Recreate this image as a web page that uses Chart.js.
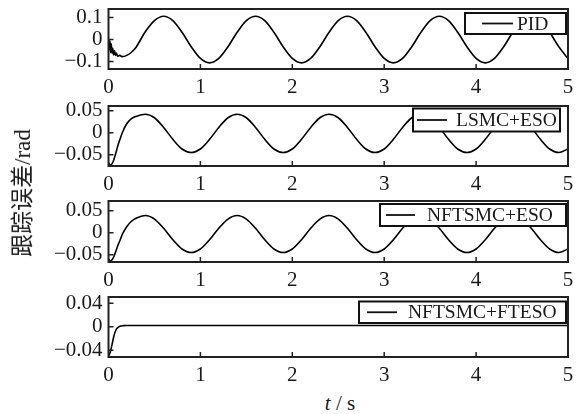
<!DOCTYPE html>
<html>
<head>
<meta charset="utf-8">
<script src="https://cdn.jsdelivr.net/npm/chart.js@4"></script>
<style>
  body { margin: 0; background: #fff; width: 582px; height: 414px; overflow: hidden; position: relative;
         font-family: "Liberation Serif", "Noto Sans CJK SC", serif; color: #1a1a1a; }
  canvas { position: absolute; left: 0; }
  #ytitle { position: absolute; left: 20px; top: 193px; transform: translate(-50%, -50%) rotate(-90deg);
            font-size: 23px; white-space: nowrap; }
  #xtitle { position: absolute; left: 340px; top: 403px; transform: translate(-50%, -50%);
            font-size: 21px; white-space: nowrap; }
</style>
</head>
<body>
<canvas id="c1" width="582" height="98" style="top:1px"></canvas>
<canvas id="c2" width="582" height="98" style="top:98px"></canvas>
<canvas id="c3" width="582" height="99" style="top:193px"></canvas>
<canvas id="c4" width="582" height="98" style="top:289px"></canvas>
<div id="ytitle">跟踪误差/rad</div>
<div id="xtitle"><i>t</i> / s</div>
<script>
// time axis ticks
const xTicks = [0, 1, 2, 3, 4, 5];

// common time grid after the start-up transient (s)
const tGrid = [0.3, 0.4, 0.5, 0.6, 0.7, 0.8, 0.9, 1.0, 1.1, 1.2, 1.3, 1.4, 1.5, 1.6, 1.7, 1.8, 1.9, 2.0,
  2.1, 2.2, 2.3, 2.4, 2.5, 2.6, 2.7, 2.8, 2.9, 3.0, 3.1, 3.2, 3.3, 3.4, 3.5, 3.6, 3.7, 3.8, 3.9, 4.0,
  4.1, 4.2, 4.3, 4.4, 4.5, 4.6, 4.7, 4.8, 4.9, 5.0];

// PID
const pidT0 = [0, 0.008, 0.015, 0.022, 0.03, 0.038, 0.046, 0.055, 0.065, 0.075, 0.085, 0.1, 0.12, 0.15, 0.2, 0.25];
const pidE0 = [-0.012, -0.045, -0.005, -0.06, -0.02, -0.062, -0.04, -0.07, -0.05, -0.072, -0.062, -0.076, -0.072, -0.078, -0.072, -0.058];
const pidE = [-0.035, 0.035, 0.086,
  0.106, 0.086, 0.033, -0.033, -0.086, -0.106, -0.086, -0.033, 0.033, 0.086,
  0.106, 0.086, 0.033, -0.033, -0.086, -0.106, -0.086, -0.033, 0.033, 0.086,
  0.106, 0.086, 0.033, -0.033, -0.086, -0.106, -0.086, -0.033, 0.033, 0.086,
  0.106, 0.086, 0.033, -0.033, -0.086, -0.106, -0.086, -0.033, 0.033, 0.086,
  0.106, 0.086, 0.033, -0.033, -0.086];

// LSMC+ESO
const escT0 = [0, 0.02, 0.05, 0.08, 0.1, 0.12, 0.15, 0.2, 0.25];
const lsmcE0 = [-0.068, -0.074, -0.066, -0.046, -0.031, -0.018, 0.0, 0.021, 0.032];
const lsmcE = [0.037,
  0.042, 0.034, 0.012, -0.015, -0.037, -0.045, -0.037, -0.015, 0.012, 0.034,
  0.042, 0.034, 0.012, -0.015, -0.037, -0.045, -0.037, -0.015, 0.012, 0.034,
  0.042, 0.034, 0.012, -0.015, -0.037, -0.045, -0.037, -0.015, 0.012, 0.034,
  0.042, 0.034, 0.012, -0.015, -0.037, -0.045, -0.037, -0.015, 0.012, 0.034,
  0.042, 0.034, 0.012, -0.015, -0.037, -0.045, -0.037];

// NFTSMC+ESO
const nftE0 = [-0.060, -0.065, -0.058, -0.042, -0.030, -0.020, -0.004, 0.014, 0.026];
const nftE = [0.033,
  0.039, 0.031, 0.010, -0.016, -0.037, -0.045, -0.037, -0.016, 0.010, 0.031,
  0.039, 0.031, 0.010, -0.016, -0.037, -0.045, -0.037, -0.016, 0.010, 0.031,
  0.039, 0.031, 0.010, -0.016, -0.037, -0.045, -0.037, -0.016, 0.010, 0.031,
  0.039, 0.031, 0.010, -0.016, -0.037, -0.045, -0.037, -0.016, 0.010, 0.031,
  0.039, 0.031, 0.010, -0.016, -0.037, -0.045, -0.037];

// NFTSMC+FTESO
const fteT = [0, 0.02, 0.04, 0.06, 0.08, 0.1, 0.13, 0.16, 0.2, 0.25, 0.5, 1.0, 1.5, 2.0, 2.5, 3.0, 3.5, 4.0, 4.5, 5.0];
const fteE = [-0.05, -0.043, -0.029, -0.015, -0.006, -0.0015, 0.001, 0.0018, 0.002, 0.002, 0.002, 0.002, 0.002, 0.002, 0.002, 0.002, 0.002, 0.002, 0.002, 0.002];

// y tick values per panel
const yTicks1 = [-0.1, 0, 0.1];
const yTicks2 = [-0.05, 0, 0.05];
const yTicks3 = [-0.05, 0, 0.05];
const yTicks4 = [-0.04, 0, 0.04];

Chart.defaults.font.family = '"Liberation Serif", serif';
Chart.defaults.font.size = 21;
Chart.defaults.color = '#1a1a1a';

const boxLegend = {
  id: 'boxLegend',
  afterDraw(chart, args, o) {
    const { ctx, chartArea: a, scales: { x, y } } = chart;
    ctx.save();
    ctx.strokeStyle = '#222';
    ctx.lineWidth = 2;
    ctx.strokeRect(a.left, a.top, a.right - a.left, a.bottom - a.top);
    ctx.lineWidth = 1.5;
    ctx.beginPath();
    x.ticks.forEach(t => {
      const px = x.getPixelForValue(t.value);
      if (px > a.left + 1 && px < a.right - 1) { ctx.moveTo(px, a.bottom); ctx.lineTo(px, a.bottom - 5); }
    });
    y.ticks.forEach(t => {
      const py = y.getPixelForValue(t.value);
      ctx.moveTo(a.left, py); ctx.lineTo(a.left + 5, py);
    });
    ctx.stroke();

    // legend box
    const l = a.right - o.left, r = a.right - o.right, tp = a.top + o.top, b = a.top + o.bottom;
    ctx.fillStyle = '#fff';
    ctx.fillRect(l, tp, r - l, b - tp);
    ctx.strokeStyle = '#111';
    ctx.lineWidth = 2;
    ctx.strokeRect(l, tp, r - l, b - tp);
    const cy = (tp + b) / 2;
    ctx.lineWidth = 1.8;
    ctx.beginPath();
    ctx.moveTo(a.right - o.line[0], cy);
    ctx.lineTo(a.right - o.line[1], cy);
    ctx.stroke();
    ctx.fillStyle = '#1a1a1a';
    ctx.font = '19.5px "Liberation Serif"';
    ctx.textAlign = 'left';
    ctx.textBaseline = 'middle';
    ctx.fillText(chart.data.datasets[0].label, a.right - o.text, cy + 1);
    ctx.restore();
  }
};

function fmt(v) {
  if (v === 0) return '0';
  return (v < 0 ? '\u2212' : '') + Math.abs(v);
}

function makePanel(id, label, t, e, yMin, yMax, yTicks, legendOpts) {
  const pts = t.map((tv, i) => ({ x: tv, y: e[i] }));
  new Chart(document.getElementById(id), {
    type: 'line',
    data: {
      datasets: [{
        label: label,
        data: pts,
        borderColor: '#000',
        borderWidth: 1.6,
        pointRadius: 0,
        cubicInterpolationMode: 'monotone',
        fill: false
      }]
    },
    options: {
      responsive: false,
      animation: false,
      devicePixelRatio: 1,
      layout: { padding: { top: 8, right: 14, left: 0, bottom: 0 } },
      plugins: { legend: { display: false }, tooltip: { enabled: false }, boxLegend: legendOpts },
      scales: {
        x: {
          type: 'linear', min: 0, max: 5,
          afterBuildTicks: s => { s.ticks = xTicks.map(v => ({ value: v })); },
          afterFit: s => { s.height = 30; s.paddingLeft = 0; s.paddingRight = 0; },
          grid: { display: false, drawTicks: false },
          border: { display: false },
          ticks: { padding: 6, maxRotation: 0, autoSkip: false }
        },
        y: {
          min: yMin, max: yMax,
          afterBuildTicks: s => { s.ticks = yTicks.map(v => ({ value: v })); },
          afterFit: s => { s.width = 108.5; s.paddingTop = 0; s.paddingBottom = 0; },
          grid: { display: false, drawTicks: false },
          border: { display: false },
          ticks: { padding: 6, callback: fmt }
        }
      }
    },
    plugins: [boxLegend]
  });
}

makePanel('c1', 'PID', pidT0.concat(tGrid), pidE0.concat(pidE), -0.134, 0.1386, yTicks1,
  { left: 103, right: 2, top: 4, bottom: 25, line: [86, 55], text: 51 });
makePanel('c2', 'LSMC+ESO', escT0.concat(tGrid), lsmcE0.concat(lsmcE), -0.0757, 0.0607, yTicks2,
  { left: 155, right: 8, top: 2.5, bottom: 25.5, line: [151, 121], text: 112 });
makePanel('c3', 'NFTSMC+ESO', escT0.concat(tGrid), nftE0.concat(nftE), -0.0666, 0.072, yTicks3,
  { left: 188, right: 2, top: 3, bottom: 25, line: [182, 153], text: 141 });
makePanel('c4', 'NFTSMC+FTESO', fteT, fteE, -0.0516, 0.0506, yTicks4,
  { left: 209, right: 2, top: 4.5, bottom: 26, line: [201, 171], text: 160 });
</script>
</body>
</html>
